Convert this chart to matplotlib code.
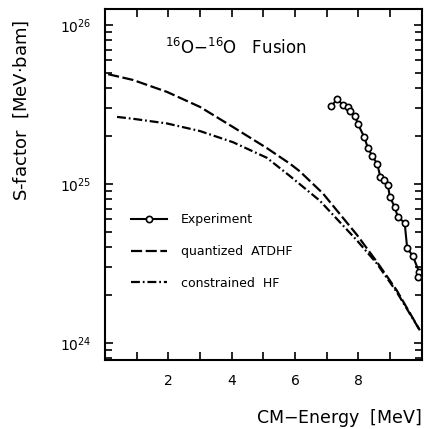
import math
import matplotlib
matplotlib.use("Agg")
import matplotlib.pyplot as plt
from matplotlib.ticker import MultipleLocator, FuncFormatter, LogLocator, NullFormatter

plt.rcParams['font.family'] = ['DejaVu Sans Condensed', 'Liberation Sans Narrow', 'DejaVu Sans']
plt.rcParams['mathtext.fontset'] = 'dejavusans'

# measured S-factor
exp_e = [7.15, 7.34, 7.50, 7.66, 7.73, 7.89, 7.99, 8.19, 8.30, 8.44, 8.60,
         8.69, 8.81, 8.93, 8.99, 9.15, 9.25, 9.46, 9.54, 9.72, 9.91, 9.88]
exp_s = [3.10e25, 3.43e25, 3.14e25, 3.03e25, 2.86e25, 2.68e25, 2.37e25,
         1.96e25, 1.68e25, 1.50e25, 1.33e25, 1.11e25, 1.06e25, 9.9e24,
         8.32e24, 7.13e24, 6.15e24, 5.71e24, 3.95e24, 3.52e24, 2.81e24, 2.61e24]

# quantized ATDHF
atdhf_e = [0.1, 0.88, 1.96, 3.0, 4.04, 5.11, 5.84, 6.15, 6.88, 7.95, 8.58, 9.21, 9.94]
atdhf_s = [4.90e25, 4.51e25, 3.79e25, 3.05e25, 2.28e25, 1.68e25, 1.34e25,
           1.20e25, 8.71e24, 4.79e24, 3.24e24, 2.14e24, 1.20e24]

# constrained HF
chf_e = [0.38, 0.88, 1.96, 3.0, 4.04, 5.11, 5.84, 6.78, 7.95, 8.58, 9.21, 9.94]
chf_s = [2.64e25, 2.57e25, 2.40e25, 2.15e25, 1.83e25, 1.46e25, 1.12e25,
         7.85e24, 4.42e24, 3.16e24, 2.09e24, 1.20e24]

xtick_labels = {2: "2", 4: "4", 6: "6", 8: "8"}

fig = plt.figure(figsize=(4.26, 4.29), dpi=100)
ax = fig.add_axes([0.2465, 0.1608, 0.7435, 0.8182])

ax.plot(exp_e, exp_s, color="black", lw=1.5, marker="o", ms=4.5,
        mfc="white", mec="black", mew=1.2, label="Experiment")
ax.plot(atdhf_e, atdhf_s, color="black", lw=1.6, dashes=(5, 1.6),
        label="quantized  ATDHF")
ax.plot(chf_e, chf_s, color="black", lw=1.6, dashes=(4, 1.3, 0.8, 1.3),
        label="constrained  HF")

ax.set_yscale("log")
ax.set_xlim(0, 10)
ax.set_ylim(7.8e23, 1.26e26)

# ticks on all four sides, pointing in
ax.xaxis.set_major_locator(MultipleLocator(1))
ax.xaxis.set_major_formatter(FuncFormatter(lambda v, p: xtick_labels.get(int(round(v)), "")))
ax.yaxis.set_major_locator(LogLocator(base=10))
ax.yaxis.set_minor_locator(LogLocator(base=10, subs=range(2, 10)))
ax.yaxis.set_minor_formatter(NullFormatter())
ax.yaxis.set_major_formatter(FuncFormatter(lambda v, p: r"10$^{%d}$" % round(math.log10(v))))
ax.tick_params(which="both", direction="in", top=True, right=True, width=1.2, labelsize=10)
ax.tick_params(which="major", length=6, pad=10)
ax.tick_params(which="minor", length=5)
for s in ax.spines.values():
    s.set_linewidth(1.5)

ax.set_xlabel("CM$-$Energy  [MeV]", fontsize=12.5, loc="right", labelpad=14)
ax.set_ylabel("S-factor  [MeV$\\cdot$bam]", fontsize=13, loc="top")
ax.yaxis.set_label_coords(-0.235, 0.97)

ax.text(0.19, 0.89, r"$^{16}$O$-$$^{16}$O   Fusion", transform=ax.transAxes,
        fontsize=12, ha="left", va="center")

ax.legend(loc="upper left", bbox_to_anchor=(0.045, 0.45), frameon=False,
          fontsize=9, numpoints=1, handlelength=2.9, labelspacing=1.5,
          handletextpad=1.1)

fig.savefig("out.png", dpi=100)
